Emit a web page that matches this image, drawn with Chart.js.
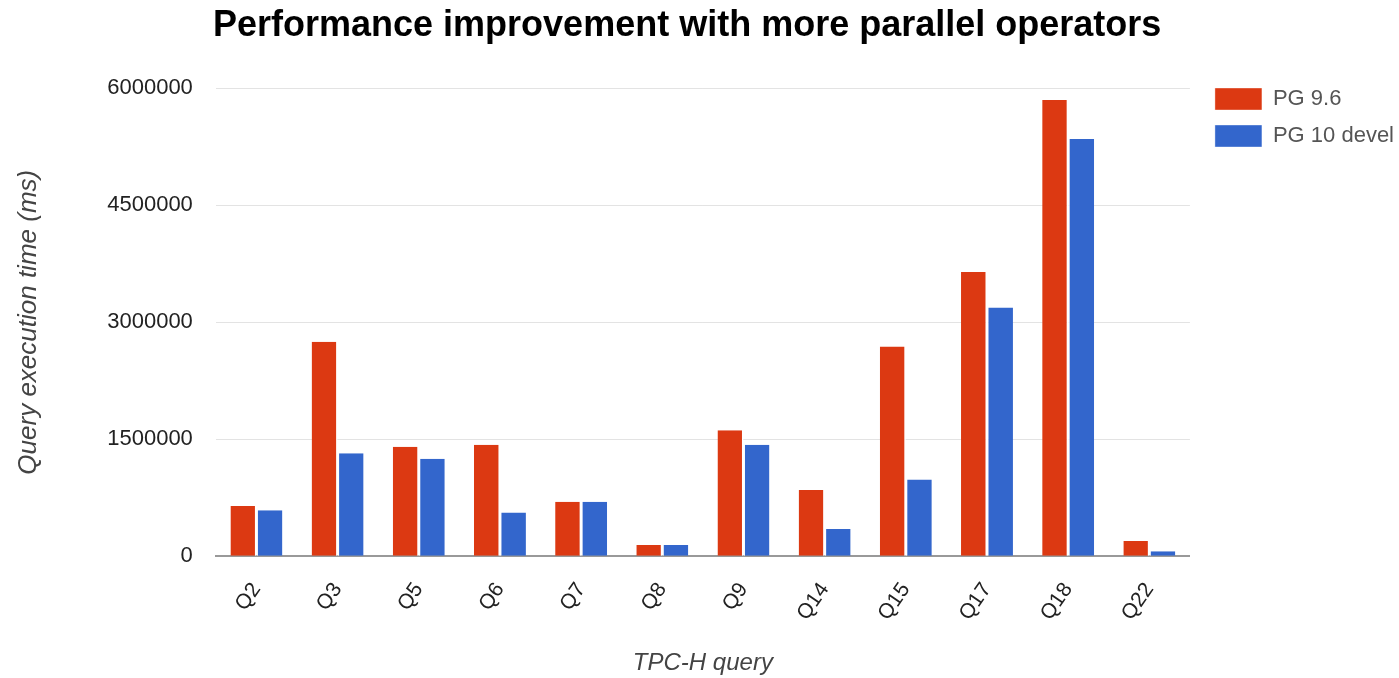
<!DOCTYPE html>
<html>
<head>
<meta charset="utf-8">
<script src="https://cdn.jsdelivr.net/npm/chart.js@4"></script>
<style>
  html, body { margin: 0; padding: 0; background: #fff; }
  #wrap { width: 1399px; height: 678px; }
</style>
</head>
<body>
<div id="wrap"><canvas id="myChart"></canvas></div>
<script>
const queries = ['Q2', 'Q3', 'Q5', 'Q6', 'Q7', 'Q8', 'Q9', 'Q14', 'Q15', 'Q17', 'Q18', 'Q22'];
const pg96 = [645000, 2750000, 1405000, 1430000, 700000, 145000, 1615000, 850000, 2690000, 3645000, 5850000, 195000];
const pg10 = [590000, 1320000, 1250000, 560000, 700000, 145000, 1430000, 350000, 985000, 3190000, 5350000, 65000];
const yTicks = [0, 1500000, 3000000, 4500000, 6000000];

const ctx = document.getElementById('myChart');

Chart.defaults.font.family = 'Arial, "Liberation Sans", sans-serif';
Chart.defaults.animation = false;

// nudge legend right of the plot and line the title up with the plot, like the original
const boxShift = {
  id: 'boxShift',
  afterLayout(chart) {
    chart.legend.left += 10;
    chart.legend.right += 10;
    chart.titleBlock.left = 213;
  }
};

const data = {
  labels: queries,
  datasets: [
    {
      label: 'PG 9.6',
      data: pg96,
      backgroundColor: '#dc3912',
      borderColor: '#ffffff',
      borderWidth: { left: 0, right: 1.5, top: 0, bottom: 0 },
      borderSkipped: false,
      categoryPercentage: 0.64,
      barPercentage: 1
    },
    {
      label: 'PG 10 devel',
      data: pg10,
      backgroundColor: '#3366cc',
      borderColor: '#ffffff',
      borderWidth: { left: 1.5, right: 0, top: 0, bottom: 0 },
      borderSkipped: false,
      categoryPercentage: 0.64,
      barPercentage: 1
    }
  ]
};

const config = {
  type: 'bar',
  data: data,
  plugins: [boxShift],
  options: {
    responsive: true,
    maintainAspectRatio: false,
    layout: { padding: { left: 0, right: 5, top: 4, bottom: 0 } },
    plugins: {
      title: {
        display: true,
        align: 'start',
        text: 'Performance improvement with more parallel operators',
        color: '#000',
        font: { size: 36, weight: 'bold' },
        padding: { top: 0, bottom: 41 }
      },
      legend: {
        position: 'right',
        align: 'start',
        title: {
          display: true,
          text: ' ',
          font: { size: 10 },
          padding: { top: 57, bottom: 0 }
        },
        labels: {
          boxWidth: 47,
          boxHeight: 22,
          padding: 15,
          color: '#555',
          font: { size: 22 }
        }
      },
      tooltip: { enabled: false }
    },
    scales: {
      x: {
        grid: { display: false, drawTicks: false },
        border: { color: '#999', width: 2 },
        ticks: {
          color: '#222',
          font: { size: 21 },
          minRotation: 55,
          maxRotation: 55,
          padding: 22
        },
        title: {
          display: true,
          text: 'TPC-H query',
          color: '#444',
          font: { size: 24, style: 'italic' },
          padding: { top: 2, bottom: 0 }
        }
      },
      y: {
        min: 0,
        max: 6000000,
        afterBuildTicks: function(axis) {
          axis.ticks = yTicks.map(v => ({ value: v }));
        },
        grid: { color: '#e3e3e3', drawTicks: false },
        border: { display: false },
        ticks: {
          color: '#222',
          font: { size: 22 },
          padding: 23,
          callback: function(value) { return String(value); }
        },
        title: {
          display: true,
          text: 'Query execution time (ms)',
          color: '#444',
          font: { size: 26, style: 'italic' },
          padding: { top: 13, bottom: 40 }
        }
      }
    }
  }
};

const myChart = new Chart(ctx, config);
</script>
</body>
</html>
